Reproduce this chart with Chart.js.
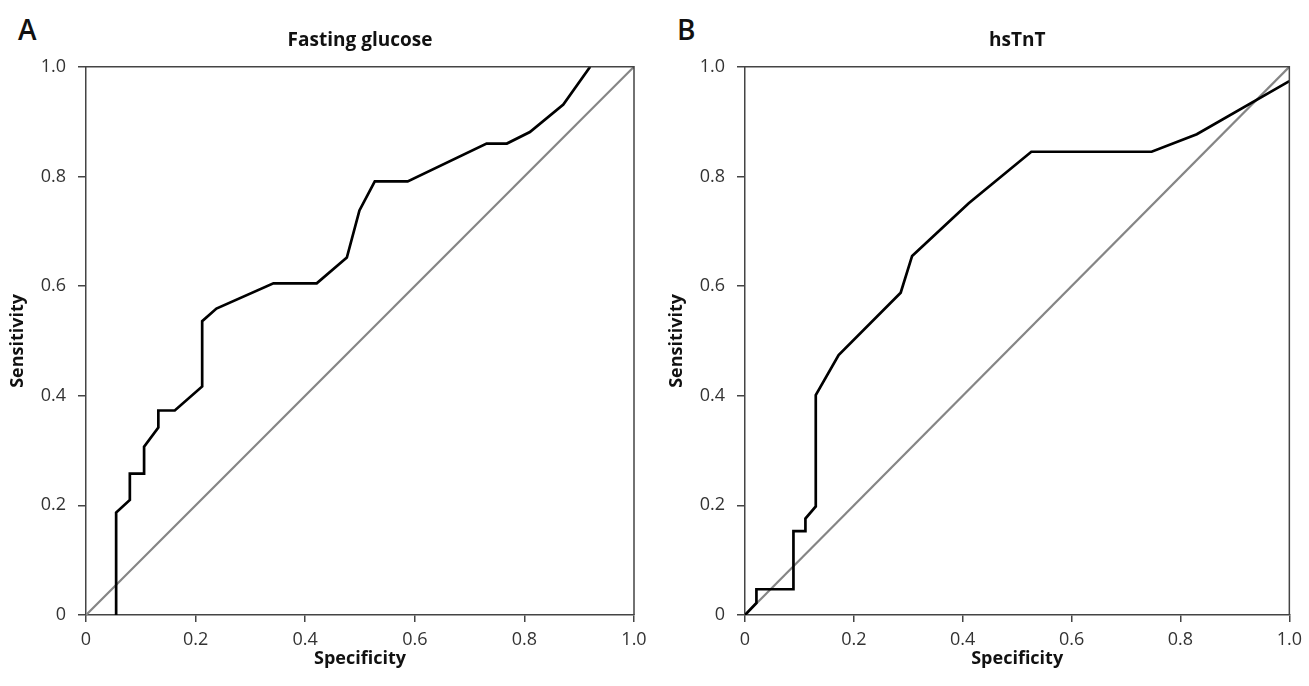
<!DOCTYPE html>
<html>
<head>
<meta charset="utf-8">
<script src="https://cdn.jsdelivr.net/npm/chart.js@4.4.0/dist/chart.umd.min.js"></script>
<style>
  html, body { margin: 0; padding: 0; background: #fff; }
  body { width: 1309px; height: 686px; position: relative; overflow: hidden; font-family: 'Open Sans', sans-serif; }
  .panel { position: absolute; top: 0; height: 686px; }
  .letter { position: absolute; top: 15px; font-size: 28px; line-height: 28px; font-weight: 600; color: #111; }
</style>
</head>
<body>
<div class="letter" style="left:18px">A</div>
<div class="letter" style="left:677px">B</div>
<div class="panel" style="left:0;width:659px"><canvas id="chartA"></canvas></div>
<div class="panel" style="left:659px;width:650px"><canvas id="chartB"></canvas></div>
<script>
// Оси
const axisTicks = [0, 0.2, 0.4, 0.6, 0.8, 1.0];
const tickLabels = ['0', '0.2', '0.4', '0.6', '0.8', '1.0'];

// Диагональ
const refX = [0, 1];
const refY = [0, 1];

// A: Fasting glucose
const glucoseSpec = [0.055, 0.055, 0.080, 0.080, 0.106, 0.106, 0.132, 0.132, 0.162, 0.212, 0.212,
  0.238, 0.342, 0.421, 0.476, 0.499, 0.527, 0.587, 0.731, 0.768, 0.810, 0.871, 0.920];
const glucoseSens = [0, 0.187, 0.210, 0.258, 0.258, 0.307, 0.342, 0.373, 0.373, 0.417, 0.536,
  0.559, 0.605, 0.605, 0.652, 0.738, 0.791, 0.791, 0.860, 0.860, 0.881, 0.931, 1.0];

// B: hsTnT
const tntSpec = [0, 0.021, 0.021, 0.089, 0.089, 0.111, 0.111, 0.130, 0.130, 0.172, 0.286,
  0.307, 0.411, 0.526, 0.747, 0.830, 1.0];
const tntSens = [0, 0.022, 0.047, 0.047, 0.153, 0.153, 0.176, 0.198, 0.401, 0.474, 0.588,
  0.655, 0.751, 0.845, 0.845, 0.877, 0.974];

const toPoints = (xs, ys) => xs.map((x, i) => ({ x: x, y: ys[i] }));

// Рамка вокруг области графика (верх и право)
const frameBox = {
  id: 'frameBox',
  afterDatasetsDraw(chart) {
    const a = chart.chartArea;
    const ctx = chart.ctx;
    ctx.save();
    ctx.strokeStyle = '#444';
    ctx.lineWidth = 1.5;
    ctx.beginPath();
    ctx.moveTo(a.left, a.top);
    ctx.lineTo(a.right, a.top);
    ctx.lineTo(a.right, a.bottom);
    ctx.stroke();
    ctx.restore();
  }
};

function axis(title, isX) {
  return {
    type: 'linear',
    min: 0,
    max: 1,
    afterBuildTicks: (scale) => { scale.ticks = axisTicks.map(v => ({ value: v })); },
    afterFit: (scale) => {
      if (isX) scale.height = 71; else scale.width = 86;
    },
    border: { display: true, color: '#444', width: 1.5 },
    grid: { display: true, drawOnChartArea: false, drawTicks: true, tickLength: isX ? 7 : 8, color: '#444', lineWidth: 1.5 },
    ticks: {
      padding: isX ? 7 : 12,
      color: '#333',
      font: { family: 'Open Sans', size: 18 },
      callback: (v) => tickLabels[axisTicks.indexOf(v)]
    },
    title: {
      display: true,
      text: title,
      color: '#111',
      font: { family: 'Open Sans', size: 18, weight: 'bold' },
      padding: isX ? { top: 0, bottom: 16 } : 7
    }
  };
}

function makeChart(id, title, xs, ys, padRight) {
  return new Chart(document.getElementById(id), {
    type: 'scatter',
    data: {
      datasets: [
        {
          data: toPoints(xs, ys),
          showLine: true,
          borderColor: '#000',
          borderWidth: 2.7,
          pointRadius: 0,
          tension: 0
        },
        {
          data: toPoints(refX, refY),
          showLine: true,
          borderColor: '#858585',
          borderWidth: 2.2,
          pointRadius: 0
        }
      ]
    },
    options: {
      responsive: true,
      maintainAspectRatio: false,
      animation: false,
      layout: { padding: { left: 0, right: padRight, top: 0, bottom: 0 } },
      plugins: {
        legend: { display: false },
        tooltip: { enabled: false },
        title: {
          display: true,
          fullSize: false,
          text: title,
          color: '#111',
          font: { family: 'Open Sans', size: 19, weight: 'bold' },
          padding: { top: 29, bottom: 15 }
        }
      },
      scales: {
        x: axis('Specificity', true),
        y: axis('Sensitivity', false)
      }
    },
    plugins: [frameBox]
  });
}

makeChart('chartA', 'Fasting glucose', glucoseSpec, glucoseSens, 25);
makeChart('chartB', 'hsTnT', tntSpec, tntSens, 16);
</script>
</body>
</html>
